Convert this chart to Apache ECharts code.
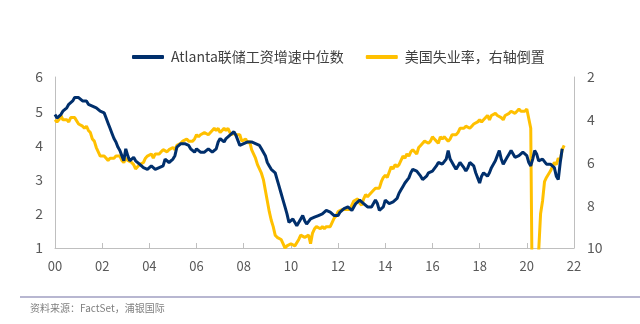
<!DOCTYPE html>
<html><head><meta charset="utf-8">
<script src="https://cdn.jsdelivr.net/npm/echarts@6/dist/echarts.min.js"></script>
<style>html,body{margin:0;padding:0;background:#fff}#c{width:640px;height:324px}</style>
</head><body><div id="c"></div>
<script>
// Monthly data starting Jan 2000
const startYear = 2000;
const seriesNames = ['Atlanta联储工资增速中位数', '美国失业率，右轴倒置'];
const xTickLabels = ['00','02','04','06','08','10','12','14','16','18','20','22'];
const sourceText = '资料来源：FactSet，浦银国际';

// Atlanta Fed wage growth tracker (%), Jan 2000 – Jul 2021
const wageGrowth = [
  4.9,4.8,4.85,4.9,5.0,5.05,5.1,5.2,5.25,5.3,5.4,5.4,
  5.4,5.35,5.3,5.35,5.3,5.2,5.25,5.15,5.2,5.1,5.05,5.0,
  5.0,4.95,4.8,4.65,4.5,4.35,4.2,4.1,3.95,3.85,3.7,3.55,
  3.9,3.7,3.55,3.6,3.65,3.55,3.5,3.45,3.4,3.35,3.3,3.3,
  3.35,3.4,3.35,3.3,3.3,3.35,3.3,3.4,3.6,3.55,3.5,3.55,
  3.6,3.7,3.95,4.0,4.05,4.1,4.05,4.1,4.0,3.9,3.85,3.8,
  3.9,3.85,3.8,3.85,3.8,3.85,3.9,3.85,3.8,3.85,3.9,4.1,
  4.2,4.15,4.1,4.2,4.25,4.3,4.35,4.4,4.3,4.25,4.0,3.95,
  4.05,4.1,4.1,4.1,4.1,4.1,4.05,4.05,4.0,3.9,3.85,3.7,
  3.5,3.4,3.3,3.25,3.2,3.0,2.8,2.6,2.4,2.2,2.0,1.75,
  1.7,1.85,1.8,1.65,1.7,1.85,1.95,1.8,1.7,1.75,1.85,1.85,
  1.9,1.9,1.95,2.0,2.0,2.05,2.1,2.15,2.05,2.0,1.95,2.0,
  1.95,2.05,2.1,2.15,2.2,2.2,2.15,2.1,2.2,2.3,2.35,2.4,
  2.4,2.3,2.25,2.2,2.2,2.2,2.3,2.4,2.3,2.1,2.05,2.2,
  2.4,2.35,2.3,2.3,2.35,2.35,2.45,2.6,2.7,2.8,2.9,2.95,
  3.05,3.2,3.3,3.3,3.25,3.2,3.1,3.0,3.05,3.1,3.2,3.25,
  3.25,3.3,3.4,3.5,3.55,3.45,3.4,3.6,3.85,3.6,3.5,3.4,
  3.3,3.4,3.5,3.45,3.35,3.25,3.35,3.5,3.55,3.4,3.2,3.05,
  2.9,3.1,3.2,3.15,3.1,3.2,3.35,3.45,3.55,3.7,3.85,3.6,
  3.45,3.55,3.65,3.75,3.85,3.8,3.65,3.6,3.7,3.75,3.8,3.75,
  3.7,3.5,3.4,3.6,3.85,3.75,3.55,3.5,3.6,3.55,3.45,3.5,
  3.45,3.5,3.35,3.1,3.0,3.5,3.9
];

// US unemployment rate (%), Jan 2000 – Aug 2021
const unemployment = [
  4.0,4.1,4.0,3.8,4.0,4.0,4.0,4.1,3.9,3.9,3.9,3.9,
  4.2,4.2,4.3,4.4,4.3,4.5,4.6,4.9,5.0,5.3,5.5,5.7,
  5.7,5.7,5.7,5.9,5.8,5.8,5.8,5.7,5.7,5.7,5.9,6.0,
  5.8,5.9,5.9,6.0,6.1,6.3,6.2,6.1,6.1,6.0,5.8,5.7,
  5.7,5.6,5.8,5.6,5.6,5.6,5.5,5.4,5.4,5.5,5.4,5.4,
  5.3,5.4,5.2,5.2,5.1,5.0,5.0,4.9,5.0,5.0,5.0,4.9,
  4.7,4.8,4.7,4.7,4.6,4.6,4.7,4.7,4.5,4.4,4.5,4.4,
  4.6,4.5,4.4,4.5,4.4,4.6,4.7,4.6,4.7,4.7,4.7,5.0,
  5.0,4.9,5.1,5.0,5.4,5.6,5.8,6.1,6.1,6.5,6.8,7.3,
  7.8,8.3,8.7,9.0,9.4,9.5,9.5,9.6,9.8,10.0,9.9,9.9,
  9.8,9.8,9.9,9.9,9.6,9.4,9.4,9.5,9.5,9.4,9.8,9.3,
  9.1,9.0,9.0,9.1,9.0,9.1,9.0,9.0,9.0,8.8,8.6,8.5,
  8.3,8.3,8.2,8.2,8.2,8.2,8.2,8.0,7.8,7.8,7.7,7.9,
  8.0,7.7,7.5,7.6,7.5,7.5,7.3,7.2,7.2,7.2,6.9,6.7,
  6.6,6.7,6.7,6.2,6.3,6.1,6.2,6.1,5.9,5.7,5.8,5.6,
  5.7,5.5,5.4,5.4,5.6,5.3,5.2,5.1,5.0,5.0,5.1,5.0,
  4.8,4.9,5.0,5.1,4.8,4.9,4.8,4.9,5.0,4.9,4.7,4.7,
  4.7,4.6,4.4,4.4,4.4,4.3,4.3,4.4,4.3,4.2,4.2,4.1,
  4.0,4.1,4.0,4.0,3.8,4.0,3.8,3.8,3.7,3.8,3.8,3.9,
  4.0,3.8,3.8,3.7,3.6,3.6,3.7,3.6,3.5,3.6,3.6,3.6,
  3.5,3.5,4.4,14.7,13.2,11.0,10.2,8.4,7.8,6.9,6.7,6.7,
  6.4,6.2,6.0,6.1,5.8,5.9,5.4,5.2
];

const toPairs = arr => arr.map((v, i) => [startYear + i / 12, v]);
const chart = echarts.init(document.getElementById('c'), null, {renderer: 'canvas'});
const axisColor = '#bfbfbf';
const labelColor = '#595959';
const font = '"Noto Sans CJK SC", "Noto Sans", sans-serif';

chart.setOption({
  animation: false,
  backgroundColor: '#fff',
  textStyle: {fontFamily: font},
  legend: {
    top: 45, left: 127,
    itemWidth: 32, itemHeight: 4, itemGap: 22,
    icon: 'roundRect',
    textStyle: {fontSize: 14, color: '#404040', fontFamily: font, padding: [0, 0, 0, 2]},
    data: seriesNames
  },
  grid: {left: 55, right: 66, top: 77, bottom: 76},
  xAxis: {
    type: 'value', min: 2000, max: 2022, interval: 2,
    axisLine: {show: true, lineStyle: {color: axisColor, width: 1}},
    axisTick: {show: true, inside: true, length: 5, lineStyle: {color: axisColor}},
    splitLine: {show: false},
    axisLabel: {
      color: labelColor, fontSize: 13, margin: 12,
      formatter: v => xTickLabels[Math.round((v - 2000) / 2)] || ''
    }
  },
  yAxis: [
    {
      type: 'value', min: 1, max: 6, interval: 1, position: 'left',
      axisLine: {show: true, lineStyle: {color: axisColor}},
      axisTick: {show: false}, splitLine: {show: false},
      axisLabel: {color: labelColor, fontSize: 14, margin: 12}
    },
    {
      type: 'value', min: 2, max: 10, interval: 2, position: 'right', inverse: true,
      axisLine: {show: true, lineStyle: {color: axisColor}},
      axisTick: {show: false}, splitLine: {show: false},
      axisLabel: {color: labelColor, fontSize: 14, margin: 13}
    }
  ],
  series: [
    {
      name: seriesNames[0], type: 'line', yAxisIndex: 0,
      data: toPairs(wageGrowth), showSymbol: false, symbol: 'none',
      lineStyle: {color: '#002f6c', width: 3}, itemStyle: {color: '#002f6c'},
      z: 3
    },
    {
      name: seriesNames[1], type: 'line', yAxisIndex: 1,
      data: toPairs(unemployment), showSymbol: false, symbol: 'none', clip: true,
      lineStyle: {color: '#ffc000', width: 3}, itemStyle: {color: '#ffc000'},
      z: 2
    }
  ],
  graphic: [
    {type: 'line', shape: {x1: 20, y1: 297, x2: 640, y2: 297},
     style: {stroke: '#a09fc2', lineWidth: 1.5}},
    {type: 'text', left: 30, top: 303,
     style: {text: sourceText, fontSize: 10, fill: '#7f7f7f', fontFamily: font}}
  ]
});
</script></body></html>
